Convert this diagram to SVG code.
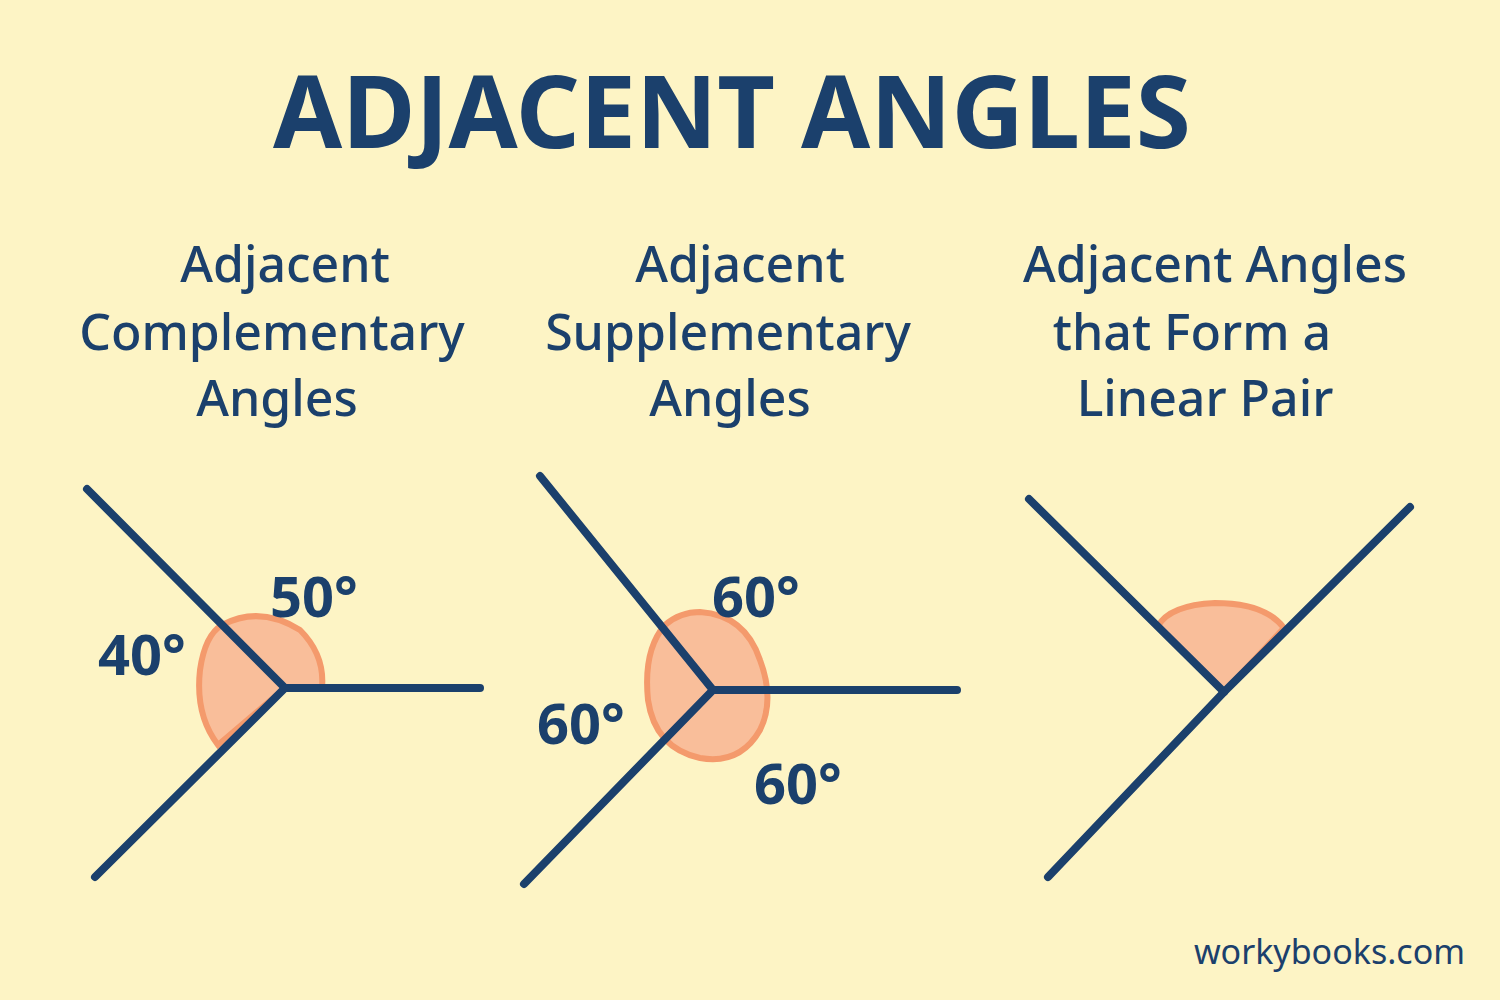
<svg xmlns="http://www.w3.org/2000/svg" width="1500" height="1000" viewBox="0 0 1500 1000">
<style>
.t{font-family:"Noto Sans","DejaVu Sans",sans-serif;fill:#1B406C}
.h{font-size:50px;font-weight:500;text-anchor:middle}
.l{stroke:#1B406C;stroke-width:8;stroke-linecap:round;fill:none}
.b{fill:#F9BE9A;stroke:#F49A6C;stroke-width:6}
.n{font-size:56px;font-weight:700}
</style>
<rect width="1500" height="1000" fill="#FDF4C5"/>
<text class="t" x="732" y="148" font-size="100" font-weight="700" text-anchor="middle">ADJACENT ANGLES</text>
<g id="p1">
<text class="t h"><tspan x="285" y="282">Adjacent</tspan><tspan x="272" y="350">Complementary</tspan><tspan x="277" y="416">Angles</tspan></text>
<path class="b" d="M285,688 L222,625 Q260,605 300,630 Q325,655 322,688 Z M285,688 L218,745 Q195,715 200,670 Q205,635 222,625 Z"/>
<line class="l" x1="87" y1="489" x2="285" y2="688"/>
<line class="l" x1="285" y1="688" x2="480" y2="688"/>
<line class="l" x1="285" y1="688" x2="95" y2="877"/>
<text class="t n" x="98" y="675">40°</text>
<text class="t n" x="270" y="617">50°</text>
</g>
<g id="p2">
<text class="t h"><tspan x="740" y="282">Adjacent</tspan><tspan x="728" y="350">Supplementary</tspan><tspan x="730" y="416">Angles</tspan></text>
<path class="b" d="M700,612 Q745,615 760,660 Q775,700 760,730 Q740,765 700,758 Q655,748 648,700 Q643,650 665,625 Q680,612 700,612 Z"/>
<line class="l" x1="540" y1="476" x2="713" y2="690"/>
<line class="l" x1="713" y1="690" x2="957" y2="690"/>
<line class="l" x1="713" y1="690" x2="524" y2="884"/>
<text class="t n" x="712" y="617">60°</text>
<text class="t n" x="537" y="744">60°</text>
<text class="t n" x="754" y="804">60°</text>
</g>
<g id="p3">
<text class="t h"><tspan x="1215" y="282">Adjacent Angles</tspan><tspan x="1192" y="350">that Form a</tspan><tspan x="1205" y="416">Linear Pair</tspan></text>
<path class="b" d="M1224,692 L1158,626 Q1170,605 1215,603 Q1265,603 1284,628 Z"/>
<line class="l" x1="1029" y1="499" x2="1224" y2="692"/>
<line class="l" x1="1224" y1="692" x2="1410" y2="507"/>
<line class="l" x1="1224" y1="692" x2="1048" y2="877"/>
</g>
<text class="t" x="1465" y="964" font-size="34" text-anchor="end" fill="#1A1A2E">workybooks.com</text>
</svg>
